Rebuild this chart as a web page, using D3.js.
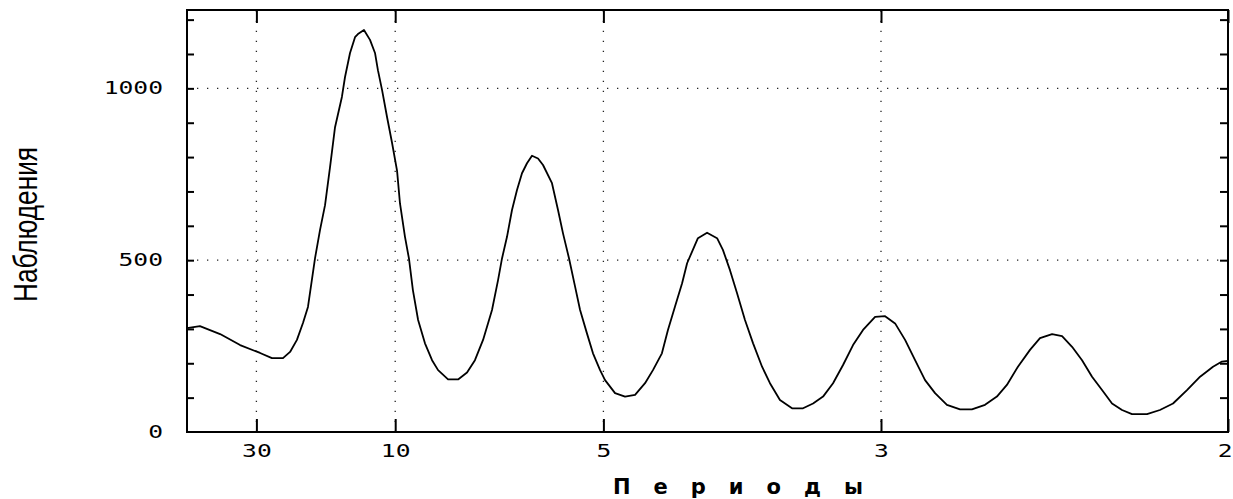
<!DOCTYPE html>
<html>
<head>
<meta charset="utf-8">
<script src="https://cdn.jsdelivr.net/npm/d3@7"></script>
<style>
  html, body { margin: 0; padding: 0; background: #fff; }
  svg { display: block; }
</style>
</head>
<body>
<svg id="chart" width="1233" height="499"></svg>
<script>
// Periodogram: frequency (cycles per observation) against spectral value
const frequency = [
  0.0000,0.0062,0.0159,0.0255,0.0351,0.0408,0.0461,0.0495,0.0528,0.0557,
  0.0581,0.0615,0.0639,0.0663,0.0687,0.0711,0.0744,0.0759,0.0783,0.0807,
  0.0821,0.0850,0.0879,0.0903,0.0917,0.0937,0.0961,0.0985,0.1009,0.1023,
  0.1047,0.1066,0.1085,0.1110,0.1143,0.1177,0.1206,0.1254,0.1302,0.1345,
  0.1383,0.1422,0.1465,0.1494,0.1513,0.1537,0.1561,0.1585,0.1609,0.1633,
  0.1657,0.1686,0.1710,0.1753,0.1782,0.1806,0.1835,0.1864,0.1888,0.1921,
  0.1950,0.1984,0.2008,0.2056,0.2104,0.2152,0.2200,0.2238,0.2281,0.2310,
  0.2344,0.2378,0.2402,0.2426,0.2454,0.2498,0.2546,0.2574,0.2608,0.2642,
  0.2680,0.2719,0.2762,0.2800,0.2848,0.2906,0.2959,0.3007,0.3055,0.3103,
  0.3151,0.3199,0.3247,0.3305,0.3353,0.3401,0.3449,0.3497,0.3545,0.3593,
  0.3650,0.3713,0.3770,0.3833,0.3890,0.3938,0.3991,0.4049,0.4097,0.4155,
  0.4203,0.4251,0.4299,0.4347,0.4395,0.4443,0.4491,0.4539,0.4611,0.4673,
  0.4736,0.4803,0.4866,0.4928,0.4971,0.5000
];
const spectrum = [
  302,308,285,253,230,215,215,233,268,317,
  364,506,588,660,771,887,975,1033,1103,1149,
  1158,1170,1141,1103,1053,995,916,841,760,665,
  568,505,413,326,258,209,180,153,153,173,
  209,268,355,442,505,568,646,704,753,782,
  804,796,777,724,646,578,505,423,355,287,
  229,180,151,113,103,108,142,180,229,297,
  365,433,491,525,564,580,564,530,471,404,
  326,258,190,142,93,69,69,83,103,142,
  195,253,297,335,337,316,268,209,151,113,
  79,66,66,79,103,137,190,239,273,285,
  279,248,209,161,122,83,64,52,52,64,
  83,122,161,190,205,207
];

// Axis labelling: periods shown at frequency 1/period
const periodTicks = [30, 10, 5, 3, 2];
const valueLabels = [0, 500, 1000];
const valueTicks = [100, 200, 300, 400, 500, 600, 700, 800, 900, 1000, 1100, 1200];
const valueGrid = [500, 1000];
const xTitle = "Периоды";
const yTitle = "Наблюдения";

const svg = d3.select("#chart");
const plot = { left: 187, right: 1228, top: 10, bottom: 432 };

const x = d3.scaleLinear().domain([0, 0.5]).range([plot.left, plot.right]);
const y = d3.scaleLinear().domain([0, 1228]).range([plot.bottom, plot.top]);

const tickFont = "'DejaVu Sans Mono', monospace";
const stretch = 1.45;

// dotted grid
const grid = svg.append("g")
  .attr("stroke", "#222")
  .attr("stroke-width", 1.3)
  .attr("stroke-dasharray", "1.3 8.7");
grid.selectAll("line.v")
  .data(periodTicks.filter(p => 1 / p < 0.5))
  .join("line")
  .attr("class", "v")
  .attr("x1", p => x(1 / p)).attr("x2", p => x(1 / p))
  .attr("y1", plot.bottom).attr("y2", plot.top);
grid.selectAll("line.h")
  .data(valueGrid)
  .join("line")
  .attr("class", "h")
  .attr("x1", plot.left).attr("x2", plot.right)
  .attr("y1", d => y(d)).attr("y2", d => y(d));

function styleAxis(g) {
  g.select(".domain").remove();
  g.selectAll(".tick line").attr("stroke", "#000").attr("stroke-width", 2);
  g.selectAll(".tick text")
    .attr("fill", "#000")
    .style("font-family", tickFont)
    .style("font-size", "17px")
    .attr("transform", function () {
      const tx = +this.getAttribute("x") || 0;
      return `translate(${tx},0) scale(${stretch},1)`;
    })
    .attr("x", 0);
}

// bottom axis with period labels, ticks pointing inward
svg.append("g")
  .attr("transform", `translate(0,${plot.bottom})`)
  .call(d3.axisBottom(x)
    .tickValues(periodTicks.map(p => 1 / p))
    .tickFormat(f => d3.format("d")(Math.round(1 / f)))
    .tickSizeInner(-13).tickSizeOuter(0).tickPadding(13))
  .call(styleAxis)
  .call(g => g.selectAll(".tick text").attr("dy", "0.72em"))
  // the label at the right edge sits flush inside the frame's end
  .call(g => g.selectAll(".tick").filter(f => f >= 0.5).select("text")
    .attr("text-anchor", "end")
    .attr("transform", `translate(4,0) scale(${stretch},1)`));

// top axis: tick marks only
svg.append("g")
  .attr("transform", `translate(0,${plot.top})`)
  .call(d3.axisTop(x)
    .tickValues(periodTicks.map(p => 1 / p))
    .tickFormat("")
    .tickSizeInner(-13).tickSizeOuter(0))
  .call(styleAxis);

// left axis: minor ticks every 100, labels at 0 / 500 / 1000
svg.append("g")
  .attr("transform", `translate(${plot.left},0)`)
  .call(d3.axisLeft(y)
    .tickValues(valueTicks)
    .tickFormat("")
    .tickSizeInner(-7).tickSizeOuter(0))
  .call(styleAxis);
svg.append("g")
  .attr("transform", `translate(${plot.left},0)`)
  .call(d3.axisLeft(y)
    .tickValues(valueLabels)
    .tickFormat(d3.format("d"))
    .tickSizeInner(0).tickSizeOuter(0).tickPadding(24))
  .call(styleAxis)
  .call(g => g.selectAll(".tick line").remove());

// right axis: tick marks only
svg.append("g")
  .attr("transform", `translate(${plot.right},0)`)
  .call(d3.axisRight(y)
    .tickValues(valueTicks)
    .tickFormat("")
    .tickSizeInner(-8).tickSizeOuter(0))
  .call(styleAxis);

// spectrum curve
const series = frequency.map((f, i) => ({ f, v: spectrum[i] }));
svg.append("path")
  .datum(series)
  .attr("fill", "none")
  .attr("stroke", "#000")
  .attr("stroke-width", 1.8)
  .attr("stroke-linejoin", "round")
  .attr("d", d3.line().x(d => x(d.f)).y(d => y(d.v)));

// plot frame
svg.append("rect")
  .attr("x", plot.left).attr("y", plot.top)
  .attr("width", plot.right - plot.left)
  .attr("height", plot.bottom - plot.top)
  .attr("fill", "none")
  .attr("stroke", "#000")
  .attr("stroke-width", 2);

// axis titles
svg.append("text")
  .attr("x", 613).attr("y", 494)
  .attr("fill", "#000")
  .style("font-family", "'DejaVu Sans', sans-serif")
  .style("font-weight", "bold")
  .style("font-size", "21px")
  .style("letter-spacing", "23px")
  .text(xTitle);

svg.append("text")
  .attr("transform", "translate(37,224.5) rotate(-90)")
  .attr("text-anchor", "middle")
  .attr("fill", "#000")
  .attr("textLength", 155)
  .attr("lengthAdjust", "spacingAndGlyphs")
  .style("font-family", "'Liberation Sans', Arial, sans-serif")
  .style("font-size", "33px")
  .text(yTitle);
</script>
</body>
</html>
